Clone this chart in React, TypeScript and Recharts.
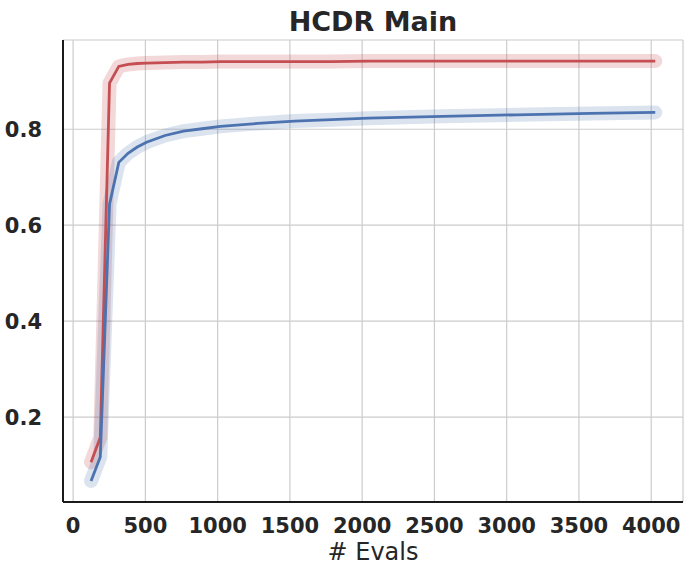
import React from 'react';
import { LineChart, Line, XAxis, YAxis, CartesianGrid } from 'recharts';

// x positions (number of evaluations)
const evals = [124, 188, 252, 316, 380, 444, 508, 636, 764, 892, 1020, 1276, 1532, 1788, 2044, 2556, 3068, 3580, 4028];
const redScores = [0.106, 0.158, 0.896, 0.931, 0.935, 0.937, 0.938, 0.939, 0.94, 0.94, 0.941, 0.941, 0.941, 0.941, 0.942, 0.942, 0.942, 0.942, 0.942];
const blueScores = [0.067, 0.117, 0.644, 0.731, 0.75, 0.763, 0.773, 0.787, 0.796, 0.801, 0.806, 0.812, 0.817, 0.82, 0.823, 0.827, 0.83, 0.833, 0.835];
const xTicks = [0, 500, 1000, 1500, 2000, 2500, 3000, 3500, 4000];
const yTicks = [0.2, 0.4, 0.6, 0.8];

const RED = '#c44e52';
const BLUE = '#4c72b0';
const FONT = '"DejaVu Sans", sans-serif';

const data = evals.map((x, i) => ({ x, red: redScores[i], blue: blueScores[i] }));

const tickStyle = { fontFamily: FONT, fontSize: 21, fontWeight: 'bold', fill: '#262626' };

const App: React.FC = () => {
  return (
    <div style={{ position: 'absolute', left: 0, top: 0, width: 692, height: 575, background: '#fff' }}>
      <div
        style={{
          position: 'absolute',
          left: 63,
          width: 620,
          top: 6,
          textAlign: 'center',
          fontFamily: FONT,
          fontWeight: 'bold',
          fontSize: 27,
          lineHeight: 'normal',
          color: '#262626',
        }}
      >
        HCDR Main
      </div>
      <LineChart width={692} height={575} data={data} margin={{ top: 40, right: 9, left: 0, bottom: 0 }}>
        <CartesianGrid stroke="#cccccc" strokeWidth={1.2} />
        <XAxis
          xAxisId="top"
          orientation="top"
          dataKey="x"
          type="number"
          domain={[-70, 4220]}
          height={0}
          tick={false}
          tickLine={false}
          axisLine={{ stroke: '#cccccc', strokeWidth: 1.5 }}
        />
        <YAxis
          yAxisId="right"
          orientation="right"
          type="number"
          domain={[0.023, 0.986]}
          width={0}
          tick={false}
          tickLine={false}
          axisLine={{ stroke: '#cccccc', strokeWidth: 1.5 }}
        />
        <XAxis
          dataKey="x"
          type="number"
          domain={[-70, 4220]}
          ticks={xTicks}
          height={73}
          tickLine={false}
          tickMargin={10}
          tick={tickStyle}
          axisLine={{ stroke: '#1a1a1a', strokeWidth: 2 }}
          label={{ value: '# Evals', position: 'insideBottom', offset: 15, style: { fontFamily: FONT, fontSize: 24, fill: '#262626' } }}
        />
        <YAxis
          type="number"
          domain={[0.023, 0.986]}
          ticks={yTicks}
          width={63}
          tickLine={false}
          tickMargin={15}
          tick={tickStyle}
          tickFormatter={(v: number) => v.toFixed(1)}
          axisLine={{ stroke: '#1a1a1a', strokeWidth: 2 }}
        />
        <Line dataKey="red" stroke={RED} strokeOpacity={0.22} strokeWidth={14} strokeLinecap="round" strokeLinejoin="round" dot={false} isAnimationActive={false} />
        <Line dataKey="blue" stroke={BLUE} strokeOpacity={0.2} strokeWidth={14} strokeLinecap="round" strokeLinejoin="round" dot={false} isAnimationActive={false} />
        <Line dataKey="red" stroke={RED} strokeWidth={2.8} dot={false} isAnimationActive={false} />
        <Line dataKey="blue" stroke={BLUE} strokeWidth={2.8} dot={false} isAnimationActive={false} />
      </LineChart>
    </div>
  );
};

export default App;
